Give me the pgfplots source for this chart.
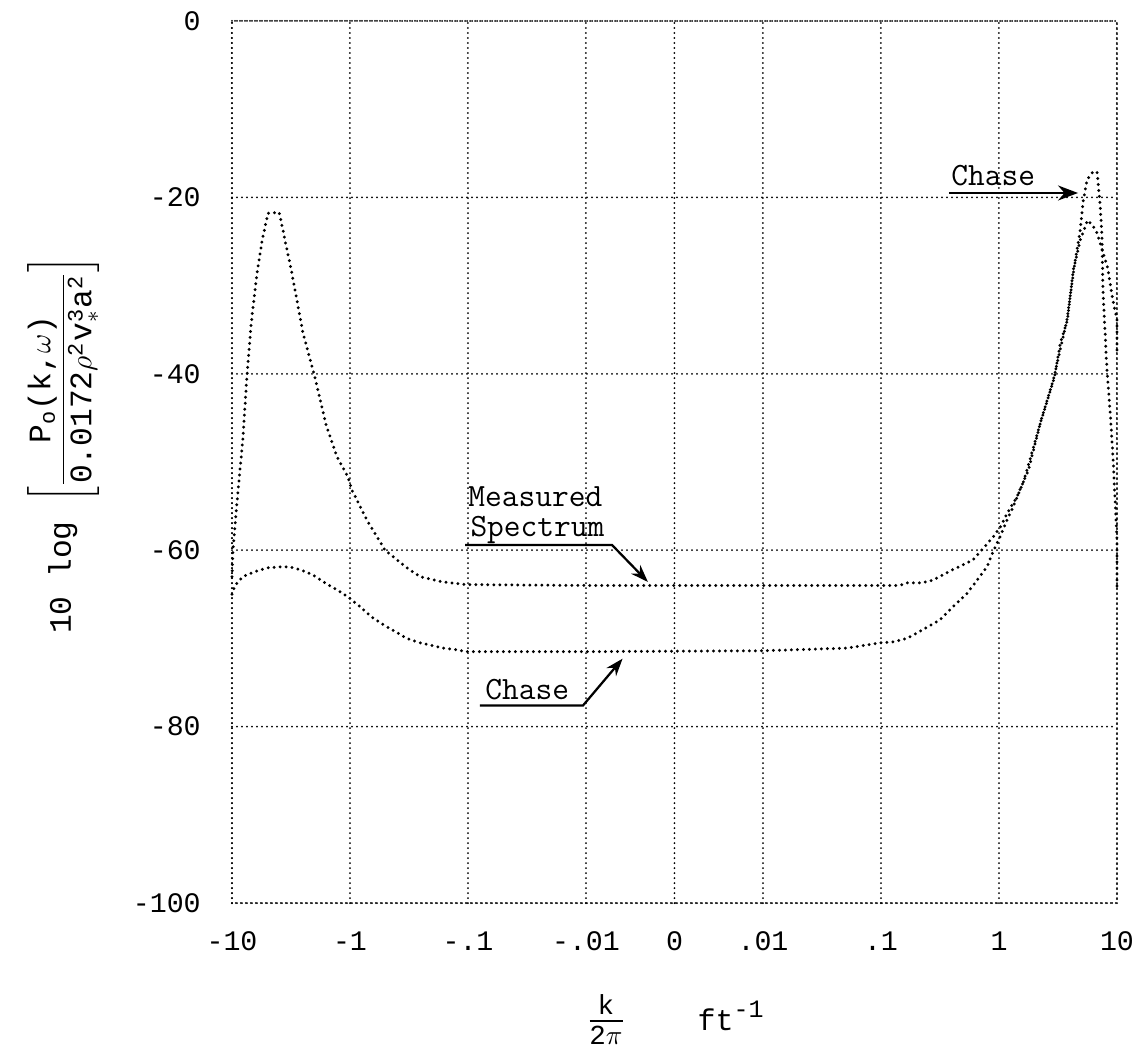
\documentclass[border=0pt]{standalone}
\usepackage{amsmath}
\usepackage{fontspec}
\setmainfont{Liberation Mono}
\usepackage{pgfplots}
\pgfplotsset{compat=1.18}
\usetikzlibrary{arrows.meta}

% x is plotted in "decade units": -10 ->0, -1 ->1, -.1 ->2, -.01 ->3, 0 ->3.75, .01 ->4.5, .1 ->5.5, 1 ->6.5, 10 ->7.5
\tikzset{
    dotline/.style={black, line width=1.3pt, line cap=round, dash pattern=on 0pt off 2.4pt},
    gridline/.style={black, line width=0.8pt, line cap=round, dash pattern=on 0pt off 2pt},
}

\begin{document}
\begin{tikzpicture}
\path[use as bounding box] (-92.8pt,-57.2pt) rectangle (363.6pt,361.2pt);
\begin{axis}[
    scale only axis,
    width=354pt, height=352.8pt,
    xmin=0, xmax=7.5,
    ymin=-100, ymax=0,
    xtick={0,1,2,3,3.75,4.5,5.5,6.5,7.5},
    xticklabels={-10,-1,-.1,-.01,0,.01,.1,1,10},
    ytick={-100,-80,-60,-40,-20,0},
    yticklabels={-100,-80,-60,-40,-20,0},
    grid=major,
    grid style={gridline},
    axis line style={gridline},
    major tick length=0pt,
    tick label style={font=\fontsize{11.3}{13}\selectfont},
    xticklabel style={yshift=-8pt},
    yticklabel style={xshift=-9pt},
    clip=false,
]
% Measured spectrum
\addplot[dotline] coordinates {
    (0.000,-63.0) (0.008,-60.0) (0.042,-54.6) (0.068,-50.9) (0.093,-47.2)
    (0.127,-40.2) (0.161,-34.5) (0.212,-28.6) (0.254,-25.0) (0.305,-21.8)
    (0.400,-21.7) (0.508,-28.6) (0.602,-35.4) (0.703,-40.4) (0.797,-45.8)
    (0.890,-49.4) (0.983,-51.7) (1.017,-53.2) (1.144,-56.6) (1.297,-60.0)
    (1.483,-62.0) (1.593,-63.0) (1.788,-63.6) (1.992,-63.9) (3.000,-64.0)
    (4.500,-64.0) (5.661,-64.0) (5.720,-63.7) (5.845,-63.7) (5.940,-63.4)
    (6.110,-62.2) (6.280,-61.1) (6.340,-60.2) (6.450,-58.5) (6.510,-57.4)
    (6.570,-55.8) (6.650,-54.0) (6.750,-50.9) (6.850,-45.6) (6.970,-40.4)
    (7.020,-36.5) (7.080,-33.9) (7.130,-28.2) (7.190,-24.8) (7.250,-22.6)
    (7.290,-23.1) (7.330,-24.0) (7.420,-27.9) (7.460,-31.3) (7.500,-33.9)
    (7.500,-37.9)
};
% Chase
\addplot[dotline] coordinates {
    (0.000,-65.0) (0.025,-64.0) (0.093,-63.0) (0.178,-62.5) (0.297,-62.0)
    (0.390,-61.9) (0.492,-61.9) (0.576,-62.2) (0.686,-62.8) (0.788,-63.7)
    (0.890,-64.5) (0.983,-65.3) (1.085,-66.4) (1.186,-67.6) (1.314,-68.7)
    (1.483,-70.0) (1.593,-70.5) (1.788,-71.1) (1.907,-71.3) (1.992,-71.5)
    (3.000,-71.5) (4.500,-71.4) (5.212,-71.1) (5.492,-70.5) (5.602,-70.4)
    (5.720,-70.0) (5.856,-69.0) (6.000,-67.9) (6.110,-66.4) (6.229,-64.9)
    (6.314,-63.4) (6.398,-61.9) (6.449,-60.2) (6.508,-58.5) (6.568,-56.6)
    (6.619,-55.1) (6.703,-52.4) (6.737,-50.9) (6.850,-45.6) (6.966,-40.4)
    (7.076,-33.9) (7.144,-27.3) (7.186,-24.0) (7.212,-20.6) (7.246,-18.0)
    (7.297,-17.1) (7.331,-17.1) (7.356,-20.6) (7.373,-24.5) (7.381,-30.5)
    (7.415,-39.6) (7.441,-44.1) (7.466,-49.4) (7.500,-58.8) (7.500,-64.5)
};

% annotations
\begin{scope}[every node/.style={font=\ttfamily\fontsize{13}{15}\selectfont, inner sep=0pt}]
\node[anchor=base west] at (axis cs:2.000,-55.1) {Measured};
\node[anchor=base west] at (axis cs:2.017,-58.5) {Spectrum};
\draw[line width=0.9pt, -{Stealth[length=7pt,width=5pt]}]
    (axis cs:1.975,-59.4) -- (axis cs:3.22,-59.4) -- (axis cs:3.525,-63.6);
\node[anchor=base west] at (axis cs:2.144,-76.9) {Chase};
\draw[line width=0.9pt, -{Stealth[length=7pt,width=5pt]}]
    (axis cs:2.10,-77.6) -- (axis cs:2.975,-77.6) -- (axis cs:3.31,-72.3);
\node[anchor=base west] at (axis cs:6.093,-18.7) {Chase};
\draw[line width=0.9pt, -{Stealth[length=8pt,width=6pt]}]
    (axis cs:6.076,-19.5) -- (axis cs:7.17,-19.5);
\end{scope}

% axis titles
\node[rotate=90, inner sep=0pt, font=\fontsize{12.5}{15}\selectfont] at (axis cs:-1.43,-48.1)
    {10 log $\left[\dfrac{\text{P}_{\text{o}}\text{(k,}\omega\text{)}}{\text{0.0172}\rho^{\text{2}}\text{v}_{*}^{\text{3}}\text{a}^{\text{2}}}\right]$};
\begin{scope}[every node/.style={inner sep=0pt, text depth=0pt, text height=7pt, font=\fontsize{11}{13}\selectfont}]
\node[anchor=base] at (axis cs:3.169,-112.6) {k};
\draw[line width=0.7pt] (axis cs:3.03,-113.4) -- (axis cs:3.31,-113.4);
\node[anchor=base] at (axis cs:3.169,-116.0) {2$\pi$};
\node[anchor=base west, font=\fontsize{12}{14}\selectfont] at (axis cs:3.941,-114.4) {ft\raisebox{5pt}{\fontsize{10}{12}\selectfont -1}};
\end{scope}
\end{axis}
\end{tikzpicture}
\end{document}
